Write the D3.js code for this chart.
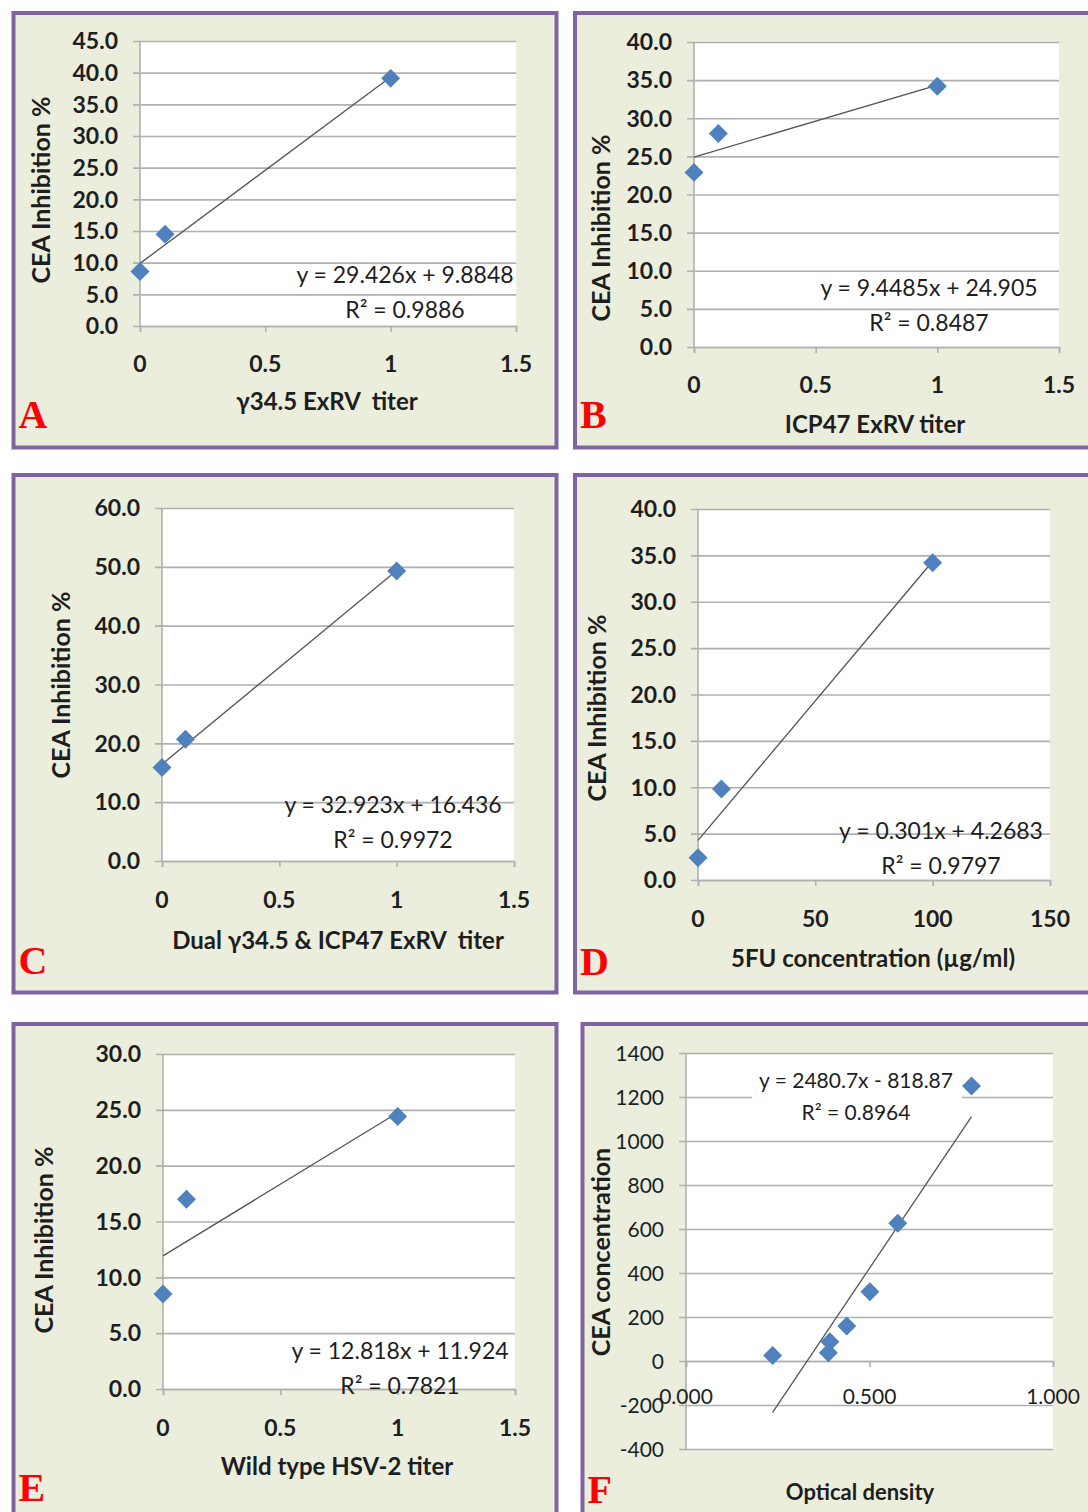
<!DOCTYPE html>
<html>
<head>
<meta charset="utf-8">
<script src="https://cdn.jsdelivr.net/npm/d3@7"></script>
<style>
body{margin:0;background:#fff;}
text{font-family:Lato,"Open Sans",sans-serif;fill:#1e1e1e;white-space:pre;}
</style>
</head>
<body>
<div id="chart"></div>
<script>
// values, panel A..F
var letters = ["A","B","C","D","E","F"];
var xTitles = ["γ34.5 ExRV  titer","ICP47 ExRV titer","Dual γ34.5 & ICP47 ExRV  titer","5FU concentration (µg/ml)","Wild type HSV-2 titer","Optical density"];
var yTitles = ["CEA Inhibition %","CEA Inhibition %","CEA Inhibition %","CEA Inhibition %","CEA Inhibition %","CEA concentration"];

var xA = [0, 0.1, 1],   yA = [8.6, 14.5, 39.1];
var xB = [0, 0.1, 1],   yB = [22.9, 28.0, 34.2];
var xC = [0, 0.1, 1],   yC = [15.9, 20.7, 49.3];
var xD = [0, 10, 100],  yD = [2.4, 9.8, 34.2];
var xE = [0, 0.1, 1],   yE = [8.5, 17.0, 24.4];
var xF = [0.236, 0.388, 0.392, 0.438, 0.501, 0.577, 0.778];
var yF = [25, 38, 88, 159, 315, 626, 1250];

var slopes     = [29.426, 9.4485, 32.923, 0.301, 12.818, 2480.7];
var intercepts = [9.8848, 24.905, 16.436, 4.2683, 11.924, -818.87];
var eqText = ["y = 29.426x + 9.8848","y = 9.4485x + 24.905","y = 32.923x + 16.436","y = 0.301x + 4.2683","y = 12.818x + 11.924","y = 2480.7x - 818.87"];
var r2Text = ["R² = 0.9886","R² = 0.8487","R² = 0.9972","R² = 0.9797","R² = 0.7821","R² = 0.8964"];

var xTicks = [[0,0.5,1,1.5],[0,0.5,1,1.5],[0,0.5,1,1.5],[0,50,100,150],[0,0.5,1,1.5],[0,0.5,1]];
var yTicks = [
	[0,5,10,15,20,25,30,35,40,45],
	[0,5,10,15,20,25,30,35,40],
	[0,10,20,30,40,50,60],
	[0,5,10,15,20,25,30,35,40],
	[0,5,10,15,20,25,30],
	[-400,-200,0,200,400,600,800,1000,1200,1400]
];
var xs = [xA,xB,xC,xD,xE,xF];
var ys = [yA,yB,yC,yD,yE,yF];

// layout of each panel (pixels)
var layout = [
	{box:[13.5,13,543,434.5], plot:[140,41,516,326],   yt:42,  ytc:190,  tickY:372,  xtc:327, xty:410,  eqx:405, eqy:283,  letY:428},
	{box:[575,13,530,434.5],  plot:[694,42,1059,347],  yt:602, ytc:228,  tickY:393,  xtc:875, xty:433,  eqx:929, eqy:296,  letY:428},
	{box:[13.5,475,543,517.5],plot:[162,508,514,861],  yt:62,  ytc:685,  tickY:908,  xtc:338, xty:949,  eqx:393, eqy:813,  letY:974},
	{box:[575,475,530,517.5], plot:[698,509,1050,880], yt:598, ytc:708,  tickY:927,  xtc:873, xty:967,  eqx:941, eqy:839,  letY:975},
	{box:[13.5,1024,543,520], plot:[163,1054,515,1389],yt:45,  ytc:1240, tickY:1436, xtc:337, xty:1475, eqx:400, eqy:1359, letY:1501},
	{box:[582.5,1024,530,520],plot:[686,1053,1053,1449],yt:602,ytc:1252, tickY:1404, xtc:860, xty:1500, eqx:856, eqy:1088, letY:1503}
];

var loc = d3.formatLocale({decimal:".", thousands:",", grouping:[3], currency:["",""], minus:"-"});
var xFmt = [loc.format("~g"),loc.format("~g"),loc.format("~g"),loc.format("~g"),loc.format("~g"),loc.format(".3f")];
var yFmt = [loc.format(".1f"),loc.format(".1f"),loc.format(".1f"),loc.format(".1f"),loc.format(".1f"),loc.format("d")];

var gridColor = "#b0b0b0";
var markColor = "#4f81bd";

var svg = d3.select("#chart").append("svg")
	.attr("width",1088).attr("height",1512);

letters.forEach(function(letter,i){
	var L = layout[i];
	var p = L.plot;
	var last = (i==5);
	var g = svg.append("g");

	g.append("rect")
		.attr("x",L.box[0]).attr("y",L.box[1])
		.attr("width",L.box[2]).attr("height",L.box[3])
		.attr("fill","#ebeedd").attr("stroke","#8064a2").attr("stroke-width",4);

	var xTk = xTicks[i], yTk = yTicks[i];
	var x = d3.scaleLinear().domain([xTk[0],xTk[xTk.length-1]]).range([p[0],p[2]]);
	var y = d3.scaleLinear().domain([yTk[0],yTk[yTk.length-1]]).range([p[3],p[1]]);

	g.append("rect")
		.attr("x",p[0]).attr("y",p[1])
		.attr("width",p[2]-p[0]).attr("height",p[3]-p[1])
		.attr("fill","#fff");

	// horizontal grid + left ticks
	var yAxis = d3.axisLeft(y).tickValues(yTk).tickSize(-(p[2]-p[0])).tickFormat("");
	var gy = g.append("g").attr("transform","translate("+p[0]+",0)").call(yAxis);
	gy.select(".domain").remove();
	gy.selectAll("line").attr("stroke",gridColor).attr("stroke-width",1.6).attr("x1",-7);

	// vertical axis line
	g.append("line")
		.attr("x1",p[0]).attr("x2",p[0]).attr("y1",p[1]).attr("y2",p[3])
		.attr("stroke",gridColor).attr("stroke-width",1.6);

	// x axis at y = 0
	var y0 = y(0);
	var xAxis = d3.axisBottom(x).tickValues(xTk).tickSize(6).tickFormat("");
	var gx = g.append("g").attr("transform","translate(0,"+y0+")").call(xAxis);
	gx.select(".domain").attr("stroke",gridColor).attr("stroke-width",1.6);
	gx.selectAll("line").attr("stroke",gridColor).attr("stroke-width",1.6);

	// tick labels
	g.selectAll(".yl").data(yTk).enter().append("text")
		.attr("x",p[0]-22).attr("y",function(d){return y(d);})
		.attr("dy","0.36em").attr("text-anchor","end")
		.attr("font-size",last?21:23).attr("font-weight",last?400:700)
		.text(yFmt[i]);
	g.selectAll(".xl").data(xTk).enter().append("text")
		.attr("x",function(d){return x(d);}).attr("y",L.tickY)
		.attr("text-anchor","middle")
		.attr("font-size",last?21:23).attr("font-weight",last?400:700)
		.text(xFmt[i]);

	// trendline over the data range
	var ext = d3.extent(xs[i]);
	g.append("line")
		.attr("x1",x(ext[0])).attr("y1",y(slopes[i]*ext[0]+intercepts[i]))
		.attr("x2",x(ext[1])).attr("y2",y(slopes[i]*ext[1]+intercepts[i]))
		.attr("stroke","#555").attr("stroke-width",1.3);

	// points
	g.selectAll(".pt").data(xs[i]).enter().append("path")
		.attr("d",d3.symbol().type(d3.symbolSquare).size(180))
		.attr("transform",function(d,j){return "translate("+x(d)+","+y(ys[i][j])+") rotate(45)";})
		.attr("fill",markColor);

	// equation label
	if(last){
		g.append("rect").attr("x",752).attr("y",1062).attr("width",210).attr("height",64).attr("fill","#fff");
	}
	g.append("text").attr("x",L.eqx).attr("y",L.eqy)
		.attr("text-anchor","middle").attr("font-size",last?21:23)
		.text(eqText[i]);
	g.append("text").attr("x",L.eqx).attr("y",L.eqy+(last?32:35))
		.attr("text-anchor","middle").attr("font-size",last?21:23)
		.text(r2Text[i]);

	// axis titles
	g.append("text")
		.attr("transform","translate("+(L.yt+8)+","+L.ytc+") rotate(-90)")
		.attr("text-anchor","middle").attr("font-size",25).attr("font-weight",700)
		.text(yTitles[i]);
	g.append("text").attr("x",L.xtc).attr("y",L.xty)
		.attr("text-anchor","middle").attr("font-size",last?22:24).attr("font-weight",700)
		.text(xTitles[i]);

	// panel letter
	g.append("text").attr("x",L.box[0]+5).attr("y",L.letY)
		.style("font-family","'Liberation Serif','DejaVu Serif',serif")
		.style("fill","#ff0000")
		.attr("font-size",40).attr("font-weight",700)
		.text(letter);
});
</script>
</body>
</html>
